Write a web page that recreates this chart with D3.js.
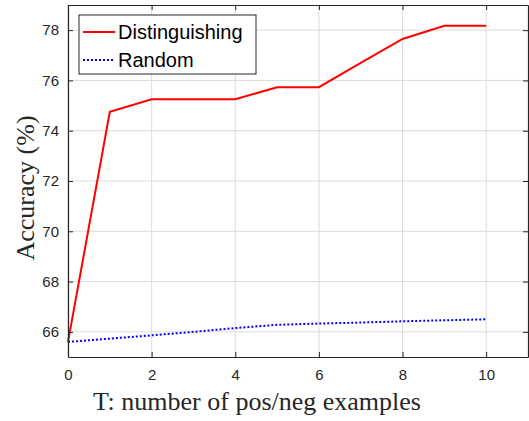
<!DOCTYPE html>
<html>
<head>
<meta charset="utf-8">
<script src="https://cdn.jsdelivr.net/npm/d3@7"></script>
<style>
  body { margin: 0; background: #fff; }
  svg { display: block; }
</style>
</head>
<body>
<svg id="chart" width="529" height="421"></svg>
<script>
// ── data ──────────────────────────────────────────────
const tValues = [0, 1, 2, 3, 4, 5, 6, 7, 8, 9, 10];
const distinguishing = [65.6, 74.75, 75.25, 75.25, 75.25, 75.73, 75.73, 76.7, 77.65, 78.17, 78.17];
const randomSel = [65.6, 65.73, 65.86, 66.0, 66.15, 66.28, 66.33, 66.37, 66.42, 66.46, 66.5];
const xTicks = [0, 2, 4, 6, 8, 10];
const yTicks = [66, 68, 70, 72, 74, 76, 78];
const seriesNames = ['Distinguishing', 'Random'];

const svg = d3.select('#chart');
const m = { left: 68, right: 1, top: 5, bottom: 64 };
const W = 529, H = 421;

const x = d3.scaleLinear().domain([0, 11]).range([m.left, W - m.right]);
const y = d3.scaleLinear().domain([65, 79]).range([H - m.bottom, m.top]);

const axisColor = '#262626';

// grid
const grid = svg.append('g');
grid.selectAll('.gx').data(xTicks).enter().append('line')
  .attr('x1', d => x(d)).attr('x2', d => x(d))
  .attr('y1', y(65)).attr('y2', y(79))
  .attr('stroke', '#dcdcdc').attr('stroke-width', 1);
grid.selectAll('.gy').data(yTicks).enter().append('line')
  .attr('x1', x(0)).attr('x2', x(11))
  .attr('y1', d => y(d)).attr('y2', d => y(d))
  .attr('stroke', '#dcdcdc').attr('stroke-width', 1);

// lines
const line = d3.line().x((d, i) => x(tValues[i])).y(d => y(d));
svg.append('path').datum(randomSel).attr('d', line)
  .attr('fill', 'none').attr('stroke', '#0000ff').attr('stroke-width', 2)
  .attr('stroke-dasharray', '2,2');
svg.append('path').datum(distinguishing).attr('d', line)
  .attr('fill', 'none').attr('stroke', '#ff0000').attr('stroke-width', 2);

// axes
const tickFont = 'Liberation Sans, Arial, sans-serif';
const xAxis = svg.append('g').attr('transform', `translate(0,${y(65)})`)
  .call(d3.axisBottom(x).tickValues(xTicks).tickSizeInner(-5).tickSizeOuter(0).tickPadding(12));
const yAxis = svg.append('g').attr('transform', `translate(${x(0)},0)`)
  .call(d3.axisLeft(y).tickValues(yTicks).tickSizeInner(-5).tickSizeOuter(0).tickPadding(9));
const xTop = svg.append('g').attr('transform', `translate(0,${y(79)})`)
  .call(d3.axisTop(x).tickValues(xTicks).tickSizeInner(-5).tickSizeOuter(0).tickFormat(''));
const yRight = svg.append('g').attr('transform', `translate(${x(11)},0)`)
  .call(d3.axisRight(y).tickValues(yTicks).tickSizeInner(-5).tickSizeOuter(0).tickFormat(''));

[xAxis, yAxis, xTop, yRight].forEach(a => {
  a.selectAll('path').attr('stroke', axisColor).attr('stroke-width', 1.2);
  a.selectAll('line').attr('stroke', axisColor);
  a.selectAll('text').attr('fill', axisColor).style('font-family', tickFont).style('font-size', '15px');
});

// axis labels
const serif = 'Liberation Serif, Times New Roman, serif';
svg.append('text')
  .attr('x', 257).attr('y', 410)
  .attr('text-anchor', 'middle')
  .style('font-family', serif).style('font-size', '26px')
  .attr('fill', axisColor)
  .text('T: number of pos/neg examples');
svg.append('text')
  .attr('transform', `translate(34,188) rotate(-90)`)
  .attr('text-anchor', 'middle')
  .style('font-family', serif).style('font-size', '26px')
  .attr('fill', axisColor)
  .text('Accuracy (%)');

// legend
const lg = svg.append('g').attr('transform', 'translate(79,15)');
lg.append('rect').attr('width', 177).attr('height', 59)
  .attr('fill', '#fff').attr('stroke', axisColor).attr('stroke-width', 1);
const legendStyles = [
  { color: '#ff0000', dash: null },
  { color: '#0000ff', dash: '2,2' }
];
seriesNames.forEach((name, i) => {
  const cy = 17 + i * 28;
  lg.append('line').attr('x1', 4).attr('x2', 36).attr('y1', cy).attr('y2', cy)
    .attr('stroke', legendStyles[i].color).attr('stroke-width', 2)
    .attr('stroke-dasharray', legendStyles[i].dash);
  lg.append('text').attr('x', 39).attr('y', cy + 7)
    .style('font-family', tickFont).style('font-size', '20px')
    .attr('fill', '#000').text(name);
});
</script>
</body>
</html>
